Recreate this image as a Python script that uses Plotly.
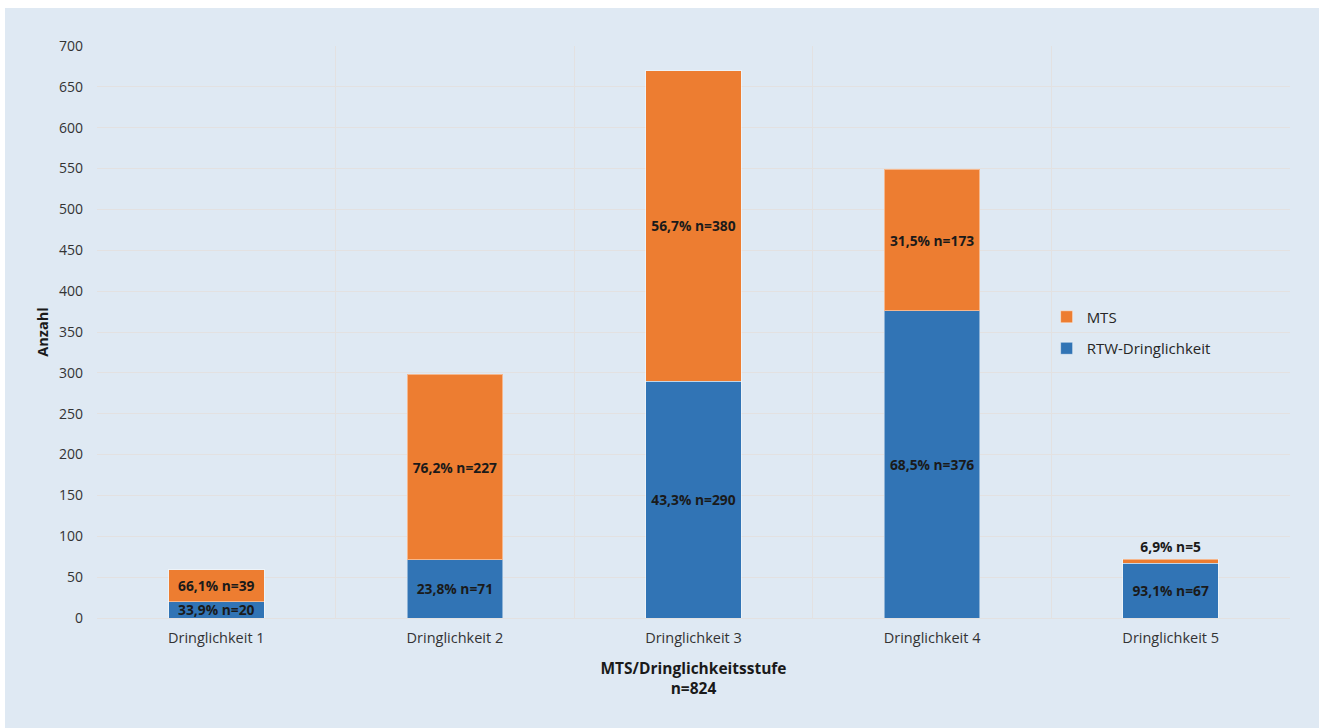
import plotly.graph_objects as go

categories = ["Dringlichkeit 1", "Dringlichkeit 2", "Dringlichkeit 3", "Dringlichkeit 4", "Dringlichkeit 5"]
rtw_values = [20, 71, 290, 376, 67]
mts_values = [39, 227, 380, 173, 5]
y_ticks = list(range(0, 701, 50))

def fmt(v, total):
    pct = f"{v / total * 100:.1f}".replace(".", ",")
    return f"{pct}% n={v}"

totals = [a + b for a, b in zip(rtw_values, mts_values)]
rtw_text = [fmt(v, t) for v, t in zip(rtw_values, totals)]
mts_text = [fmt(v, t) for v, t in zip(mts_values, totals)]
mts_pos = ["outside" if v / t < 0.1 else "inside" for v, t in zip(mts_values, totals)]

FONT = "Open Sans"
label_font = dict(family=FONT, size=13.8, color="#1a1a1a", weight="bold")

fig = go.Figure()
fig.add_trace(go.Bar(
    x=categories, y=rtw_values, name="RTW-Dringlichkeit", legendgroup="rtw", legendrank=2,
    marker=dict(color="#3174b5", line=dict(color="rgba(255,255,255,0.45)", width=1)),
    text=rtw_text, textposition="inside", insidetextanchor="middle",
    textfont=label_font, constraintext="none", cliponaxis=False,
))
fig.add_trace(go.Bar(
    x=categories, y=mts_values, name="MTS", legendgroup="mts", legendrank=1,
    marker=dict(color="#ed7d31", line=dict(color="rgba(255,255,255,0.45)", width=1)),
    text=mts_text, textposition=mts_pos, insidetextanchor="middle",
    textfont=label_font, outsidetextfont=label_font, constraintext="none", cliponaxis=False,
))

grid = "#e3e1e1"
bg = "#dfe9f3"
fig.update_layout(
    width=1319, height=728,
    barmode="stack", bargap=0.6,
    paper_bgcolor=bg, plot_bgcolor="rgba(0,0,0,0)",
    margin=dict(l=97, r=29, t=46, b=110),
    font=dict(family=FONT, size=14, color="#333333"),
    uniformtext=dict(mode=False),
    legend=dict(
        x=0.796, y=0.555, xanchor="left", yanchor="top",
        traceorder="grouped", bgcolor="rgba(0,0,0,0)",
        font=dict(family=FONT, size=15, color="#262626"),
        itemwidth=30, tracegroupgap=9,
    ),
    xaxis=dict(
        type="category", tickson="boundaries", showgrid=True, gridcolor=grid, gridwidth=1,
        ticks="", showline=False, zeroline=False,
        tickfont=dict(family=FONT, size=14.5, color="#333333"),
        ticklabelstandoff=9,
        title=dict(text="MTS/Dringlichkeitsstufe<br>n=824",
                   font=dict(family=FONT, size=15.5, color="#1a1a1a", weight="bold"), standoff=17),
    ),
    yaxis=dict(
        range=[0, 700], tickvals=y_ticks, showgrid=True, gridcolor=grid, gridwidth=1,
        zeroline=True, zerolinecolor=grid, zerolinewidth=1, ticks="", showline=False,
        tickfont=dict(family=FONT, size=14, color="#333333"),
        ticklabelstandoff=13,
        title=dict(text="Anzahl", font=dict(family=FONT, size=14.5, color="#1a1a1a", weight="bold"),
                   standoff=6),
    ),
    shapes=[
        dict(type="rect", xref="paper", yref="paper", layer="below",
             x0=-0.1, x1=(5 - 97) / 1193, y0=-0.25, y1=1.2,
             fillcolor="white", line=dict(width=0)),
        dict(type="rect", xref="paper", yref="paper", layer="below",
             x0=-0.1, x1=1.1, y0=(618 - 8) / 572, y1=1.2,
             fillcolor="white", line=dict(width=0)),
    ],
)

fig.write_html("out.html")
